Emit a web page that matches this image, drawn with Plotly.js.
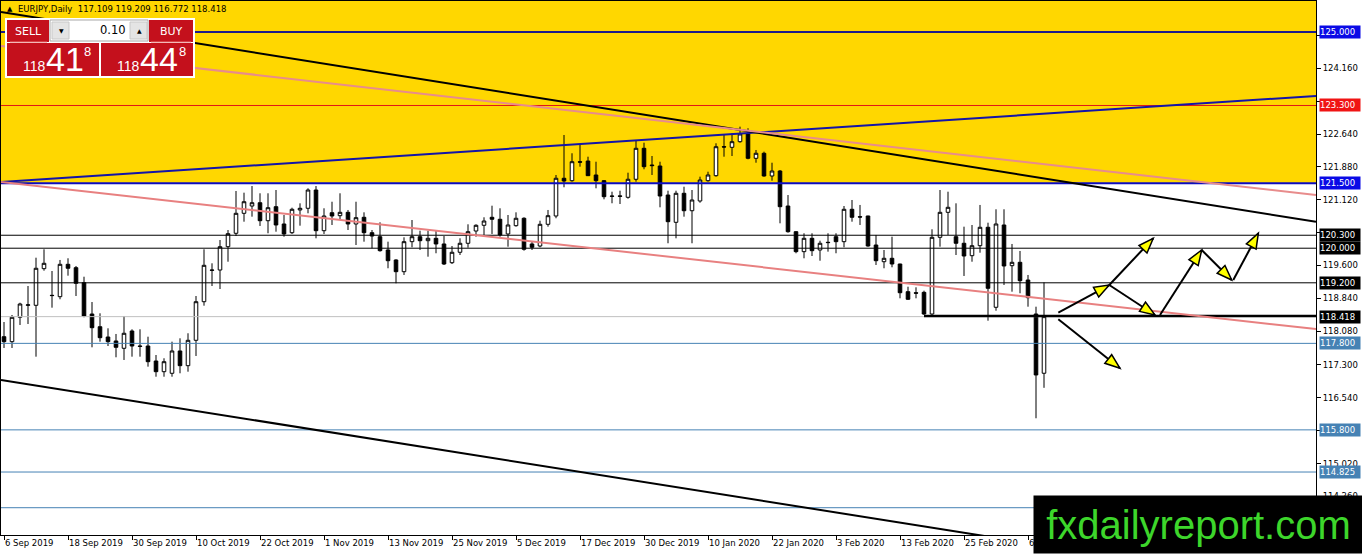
<!DOCTYPE html>
<html><head><meta charset="utf-8">
<script src="https://cdn.plot.ly/plotly-3.0.1.min.js"></script>
<style>html,body{margin:0;padding:0;background:#fff;overflow:hidden}#chart{width:1362px;height:554px}</style>
</head><body><div id="chart"></div>
<script>
// ---------- data ----------
const opens = [117.954,117.839,118.403,118.680,118.680,119.527,118.911,118.879,119.628,119.550,
119.203,118.479,118.185,117.947,117.855,117.686,118.086,117.739,117.739,117.392,
117.145,117.108,117.624,117.284,117.871,118.763,119.496,119.496,120.035,120.345,
120.807,120.976,121.052,120.636,120.960,120.560,120.359,120.884,120.923,121.346,
120.405,120.821,120.752,120.830,120.560,120.715,120.359,120.266,119.959,119.728,
119.457,120.151,120.266,120.174,120.229,120.098,119.665,119.906,120.114,120.398,
120.530,120.715,120.669,120.329,120.521,120.692,120.098,120.051,120.553,120.745,
121.617,121.561,122.000,122.016,121.693,121.561,121.207,121.210,121.177,121.594,
122.310,121.924,121.901,121.230,120.599,121.270,120.867,121.092,121.561,121.677,
122.347,122.333,122.463,122.657,122.079,122.195,121.670,121.785,120.976,120.382,
119.920,120.229,119.959,120.137,120.266,120.151,120.900,120.729,120.745,120.074,
119.688,119.767,119.635,118.995,118.971,118.980,118.479,120.252,120.830,120.266,
120.114,119.827,120.058,120.484,118.634,120.537,119.596,119.674,119.265,118.479,117.109];
const highs = [118.294,118.456,118.740,119.126,119.781,119.975,119.473,119.728,119.767,119.589,
119.341,118.756,118.495,118.148,118.017,118.433,118.125,118.125,117.954,117.531,
117.455,117.839,117.917,118.033,118.895,119.975,119.651,120.190,120.421,121.323,
121.284,121.438,121.270,121.270,121.346,120.768,120.937,121.038,121.385,121.438,
120.923,121.075,121.270,120.884,121.075,120.830,120.421,120.599,120.151,119.744,
120.252,120.652,120.405,120.405,120.405,120.282,120.051,120.229,120.553,120.553,
120.715,120.983,120.923,120.768,120.830,120.715,120.151,120.636,120.884,121.693,
122.618,122.195,122.386,122.116,122.000,121.577,121.307,121.330,121.746,122.502,
122.440,122.132,122.000,121.330,121.330,121.422,121.346,121.654,121.769,122.426,
122.618,122.657,122.810,122.773,122.271,122.232,121.977,121.808,121.230,120.390,
120.345,120.345,120.174,120.345,120.345,120.976,121.115,121.000,120.750,120.306,
119.959,120.266,119.640,119.110,119.096,119.018,120.437,121.346,121.307,121.038,
120.498,120.537,121.000,120.590,120.900,120.900,120.098,119.936,119.381,118.648,119.209];
const lows = [117.693,117.693,118.225,118.248,117.492,119.480,118.625,118.819,119.365,118.895,
118.403,117.709,117.839,117.739,117.478,117.416,117.492,117.492,117.261,117.029,
117.029,117.029,117.108,117.145,117.508,118.671,119.126,119.057,119.688,120.282,
120.613,120.729,120.514,120.345,120.382,120.266,120.329,120.521,120.807,120.229,
120.329,120.537,120.652,120.421,120.074,120.151,119.998,119.920,119.536,119.189,
119.381,120.021,119.959,119.804,119.883,119.612,119.635,119.843,120.012,120.266,
120.306,120.329,120.266,120.035,120.498,119.943,119.959,120.021,120.498,120.692,
121.409,121.538,121.885,121.670,121.385,121.131,121.039,121.022,121.145,121.538,
121.825,121.693,120.946,120.114,120.229,120.729,120.114,121.052,121.538,121.654,
122.116,122.132,122.440,122.056,121.977,121.654,121.561,120.576,120.359,119.883,
119.767,119.820,119.711,119.920,119.883,120.021,120.613,120.537,120.035,119.612,
119.536,119.559,118.842,118.803,118.842,118.456,118.456,120.035,120.306,119.843,
119.358,119.688,119.896,118.324,118.555,119.150,118.995,118.958,118.648,116.068,116.772];
const closes = [117.839,118.403,118.710,118.690,119.536,119.651,118.905,119.628,119.536,119.189,
118.433,118.162,117.931,117.839,117.709,118.033,117.739,117.730,117.376,117.145,
117.376,117.624,117.284,117.871,118.763,119.605,119.490,120.035,120.336,120.807,
121.075,121.052,120.636,120.937,120.537,120.329,120.900,120.923,121.346,120.405,
120.745,120.745,120.830,120.560,120.706,120.359,120.282,119.943,119.711,119.457,
120.151,120.266,120.174,120.229,120.098,119.635,119.906,120.114,120.382,120.530,
120.629,120.669,120.306,120.537,120.692,119.975,120.021,120.553,120.752,121.617,
121.554,122.000,121.990,121.677,121.561,121.191,121.200,121.200,121.594,122.310,
121.885,121.910,121.207,120.613,121.270,120.867,121.115,121.577,121.693,122.347,
122.340,122.463,122.641,122.079,122.195,121.670,121.785,120.960,120.382,119.920,
120.229,119.943,120.114,120.130,120.151,120.900,120.715,120.720,120.051,119.711,
119.767,119.635,118.971,118.819,118.960,118.479,120.252,120.830,120.946,120.114,
119.820,120.058,120.484,119.073,120.560,119.589,119.674,119.249,118.856,117.069,118.418];

// last label is mostly hidden behind the watermark: only "6" shows
const dateLabels = ["6 Sep 2019","18 Sep 2019","30 Sep 2019","10 Oct 2019","22 Oct 2019","1 Nov 2019",
"13 Nov 2019","25 Nov 2019","5 Dec 2019","17 Dec 2019","30 Dec 2019","10 Jan 2020","22 Jan 2020",
"3 Feb 2020","13 Feb 2020","25 Feb 2020","6"];
const dateLabelBars = [0,8,16,24,32,40,48,56,64,72,80,88,96,104,112,120,128];

const priceTicks = [124.920,124.160,123.400,122.640,121.880,121.120,120.360,119.600,118.840,118.080,117.300,116.540,115.780,115.020,114.260];
// tick texts covered by the coloured price labels are left blank
const coveredTicks = [124.920,123.400,120.360,115.780];

const levelPrices = [125.000,123.300,121.500,120.300,120.000,119.200,118.418,117.800,115.800,114.825,114.000];
const zoneBottom = 121.500;

// trend lines: price at left edge and right edge of the chart
const trendLeftPrices  = [121.53,125.46,124.676,121.53,116.953];
const trendRightPrices = [123.52,120.61,121.23,118.13,112.13];

const supportStartBar = 115, supportPrice = 118.43;

// scenario arrows (bar index, price)
const arrowFromBar   = [131.79,138.16,138.16,144.5,149.71,153.66,131.79];
const arrowFromPrice = [118.509,119.149,119.149,118.456,119.959,119.265,118.356];
const arrowToBar     = [138.16,143.66,143.88,149.71,153.46,156.79,139.5];
const arrowToPrice   = [119.149,120.229,118.456,119.959,119.265,120.345,117.223];

const headerText = "EURJPY,Daily  117.109 119.209 116.772 118.418";
const sellQuote = ["118","41","8"], buyQuote = ["118","44","8"], lotText = "0.10";

// ---------- styles / geometry ----------
const W = 1362, H = 554;
const M = {l:1, r:46, t:1, b:19};
const PW = W - M.l - M.r, PH = H - M.t - M.b;
const X0 = -0.375, X1 = 164;
const Y0 = 113.369, Y1 = 125.716;
const pxX = i => M.l + (i - X0) / (X1 - X0) * PW;
const pxY = p => M.t + (Y1 - p) / (Y1 - Y0) * PH;
const papX = x => (x - M.l) / PW;
const papY = y => (M.t + PH - y) / PH;

const levelLineColors = ['#1c1c8a','#e01818','#0c0cc0','#000','#000','#000','#c0c0c0','#4682b4','#4682b4','#4682b4','#4682b4'];
const levelLineWidths = [2,1,2,1,1,1,1,1,1,1,1];
const levelLabelBg = ['#0a0ae6','#f01414','#0a0ae6','#000','#000','#000','#000','#4682b4','#4682b4','#4682b4',null];
const trendColors = ['#1414a8','#000','#e88c8c','#e88080','#000'];
const FONT = 'DejaVu Sans';

const shapes = [];
const annotations = [];

shapes.push({type:'rect', xref:'paper', yref:'y', x0:0, x1:1, y0:zoneBottom, y1:Y1, fillcolor:'#ffd700', line:{width:0}, layer:'below'});

levelPrices.forEach((p,k)=>{
  shapes.push({type:'line', xref:'paper', yref:'y', x0:0, x1:1, y0:p, y1:p, line:{color:levelLineColors[k], width:levelLineWidths[k]}, layer:'above'});
});
shapes.push({type:'line', xref:'x', yref:'y', x0:supportStartBar, x1:X1, y0:supportPrice, y1:supportPrice, line:{color:'#000', width:2.5}, layer:'above'});

trendLeftPrices.forEach((p,k)=>{
  shapes.push({type:'line', xref:'x', yref:'y', x0:X0, x1:X1, y0:p, y1:trendRightPrices[k], line:{color:trendColors[k], width:2}, layer:'above'});
});

arrowFromBar.forEach((b,k)=>{
  shapes.push({type:'line', xref:'x', yref:'y', x0:b, y0:arrowFromPrice[k], x1:arrowToBar[k], y1:arrowToPrice[k], line:{color:'#000', width:2}, layer:'above'});
});
arrowFromBar.forEach((b,k)=>{
  const xa = pxX(b), ya = pxY(arrowFromPrice[k]);
  const xb = pxX(arrowToBar[k]), yb = pxY(arrowToPrice[k]);
  const len = Math.hypot(xb-xa, yb-ya), dx=(xb-xa)/len, dy=(yb-ya)/len;
  const L=15, HW=5.5;
  const bx = xb - dx*L, by = yb - dy*L;
  const p1=[bx - dy*HW, by + dx*HW], p2=[bx + dy*HW, by - dx*HW];
  const path = `M ${papX(xb)} ${papY(yb)} L ${papX(p1[0])} ${papY(p1[1])} L ${papX(p2[0])} ${papY(p2[1])} Z`;
  shapes.push({type:'path', xref:'paper', yref:'paper', path, fillcolor:'#ffff00', line:{color:'#000', width:1.5}, layer:'above'});
});

function rectPx(x0,y0,x1,y1,fill,lc,lw){
  shapes.push({type:'rect', xref:'paper', yref:'paper', x0:papX(x0), x1:papX(x1), y0:papY(y1), y1:papY(y0), fillcolor:fill, line:{color:lc||fill, width:lw||0}, layer:'above'});
}
const RED = '#c4101c';
rectPx(5,18,195,78,'#ffffff');
rectPx(7,20,49,42,RED);
rectPx(50,20,148,41,'#ffffff','#a8a8a8',1);
rectPx(52,22,69,39,'#e4e4e4','#c8c8c8',1);
rectPx(130,22,147,39,'#e4e4e4','#c8c8c8',1);
rectPx(149,20,193,42,RED);
rectPx(7,43,99,76,RED);
rectPx(101,43,193,76,RED);
shapes.push({type:'line', xref:'paper', yref:'paper', x0:papX(10), x1:papX(47), y0:papY(42), y1:papY(42), line:{color:'#e87070', width:1}, layer:'above'});
shapes.push({type:'line', xref:'paper', yref:'paper', x0:papX(151), x1:papX(191), y0:papY(42), y1:papY(42), line:{color:'#e87070', width:1}, layer:'above'});

function txt(x,y,text,size,color,xanchor,family,extra){
  annotations.push(Object.assign({xref:'paper', yref:'paper', x:papX(x), y:papY(y), text, showarrow:false,
    xanchor:xanchor||'center', yanchor:'middle', font:{family:family||FONT, size, color}, borderpad:0}, extra||{}));
}
txt(10,9,'▲',7,'#000');
txt(17,9,headerText,8.5,'#000','left');
txt(28,31,'SELL',11,'#fff');
txt(171,31,'BUY',11,'#fff');
txt(61,30,'▼',6,'#000');
txt(139,30,'▲',6,'#000');
txt(127,30,lotText,11.5,'#000','right');
txt(22,66,sellQuote[0],14,'#fff','left','Liberation Sans');
txt(45,59,sellQuote[1],34,'#fff','left','Liberation Sans');
txt(83,51,sellQuote[2],13,'#fff','left','Liberation Sans');
txt(116,66,buyQuote[0],14,'#fff','left','Liberation Sans');
txt(139,59,buyQuote[1],34,'#fff','left','Liberation Sans');
txt(178,51,buyQuote[2],13,'#fff','left','Liberation Sans');

levelPrices.forEach((p,k)=>{
  if(!levelLabelBg[k]) return;
  annotations.push({xref:'paper', yref:'y', x:1, y:p, xanchor:'left', yanchor:'middle', xshift:3,
    text:p.toFixed(3), showarrow:false, bgcolor:levelLabelBg[k], width:40, height:12, align:'left', borderpad:0,
    font:{family:FONT, size:8.5, color:'#fff'}});
});

dateLabels.forEach((d,k)=>{
  annotations.push({xref:'x', yref:'paper', x:dateLabelBars[k], y:0, xanchor:'left', yanchor:'top', xshift:0, yshift:-2,
    text:d, showarrow:false, borderpad:0, font:{family:FONT, size:8.5, color:'#000'}});
});

annotations.push({xref:'paper', yref:'paper', x:papX(1033), y:papY(554), xanchor:'left', yanchor:'bottom',
  width:329, height:57, bgcolor:'#000', borderpad:0, showarrow:false, text:'fxdailyreport.com',
  font:{family:'Liberation Sans', size:40, color:'#3dd62b'}});

const bars = closes.map((_,i)=>i);
const trace = {
  type:'candlestick', x:bars, open:opens, high:highs, low:lows, close:closes,
  increasing:{line:{color:'#000', width:1}, fillcolor:'#ffffff'},
  decreasing:{line:{color:'#000', width:1}, fillcolor:'#000000'},
  whiskerwidth:0, hoverinfo:'skip', showlegend:false
};

const layout = {
  width:W, height:H, margin:{l:M.l, r:M.r, t:M.t, b:M.b, pad:0},
  paper_bgcolor:'#fff', plot_bgcolor:'#fff', showlegend:false, boxgap:0.36,
  font:{family:FONT, size:8.5, color:'#000'},
  xaxis:{range:[X0,X1], type:'linear', rangeslider:{visible:false}, showgrid:false, zeroline:false,
    showline:true, mirror:true, linecolor:'#000', linewidth:1, tickmode:'array', tickvals:dateLabelBars,
    showticklabels:false, ticks:'outside', ticklen:4, tickcolor:'#000', fixedrange:true},
  yaxis:{range:[Y0,Y1], side:'right', showgrid:false, zeroline:false, showline:true, mirror:true,
    linecolor:'#000', linewidth:1, tickmode:'array', tickvals:priceTicks,
    ticktext:priceTicks.map(v=>coveredTicks.includes(v)?'':v.toFixed(3)),
    ticks:'outside', ticklen:4, tickcolor:'#000', tickfont:{family:FONT, size:8.5, color:'#000'}, fixedrange:true},
  shapes, annotations
};
Plotly.newPlot('chart', [trace], layout, {staticPlot:true, displayModeBar:false});
</script></body></html>
